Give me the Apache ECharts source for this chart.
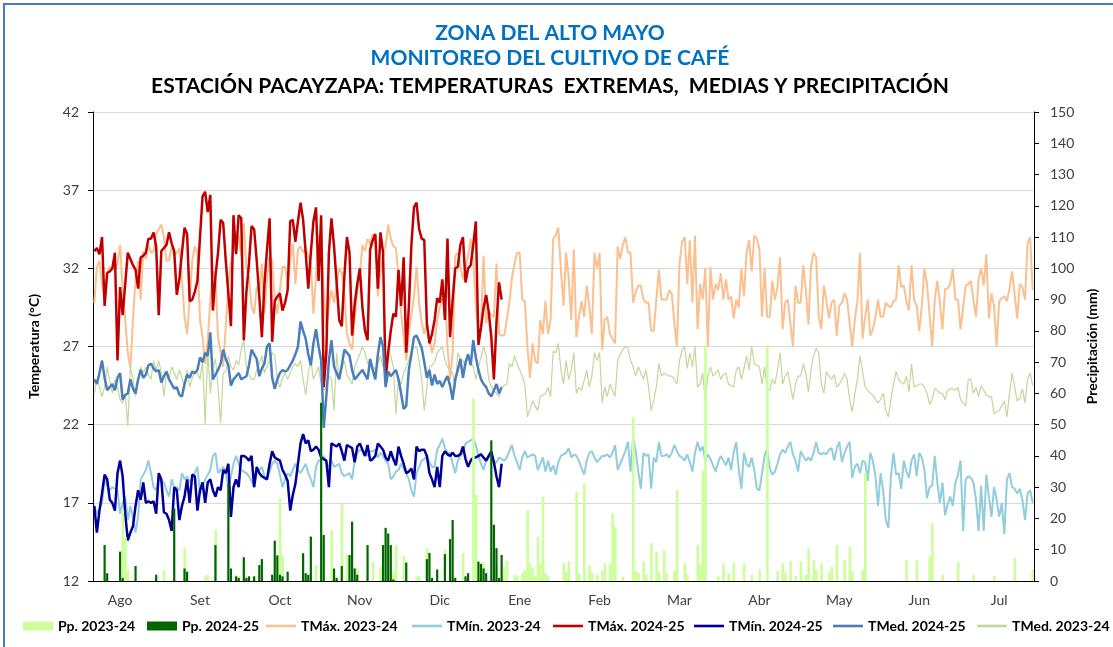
<!DOCTYPE html>
<html>
<head>
<meta charset="utf-8">
<script src="https://cdn.jsdelivr.net/npm/echarts@6/dist/echarts.min.js"></script>
<style>
  html, body { margin: 0; padding: 0; background: #fff; }
  #chart { width: 1113px; height: 647px; }
</style>
</head>
<body>
<div id="chart"></div>
<script>
// daily axis: 1 Ago 2023 .. 30 Jul 2024
const startDate = Date.UTC(2023, 7, 1)
const days = Array.from({ length: 365 }, (_, i) =>
  new Date(startDate + i * 86400000).toISOString().slice(0, 10))
const monthLabels = ['Ago', 'Set', 'Oct', 'Nov', 'Dic', 'Ene', 'Feb', 'Mar', 'Abr', 'May', 'Jun', 'Jul']

// campaña 2023-24 (año completo)
const tmax2324 = [
  29.8, 32.1, 32.5, 31.0, 30.0, 31.7, 32.1, 32.0, 31.9, 32.3,
  33.5, 30.6, 28.7, 26.6, 25.6, 28.7, 31.3, 32.5, 30.0, 33.1,
  32.6, 33.5, 33.0, 33.1, 34.2, 34.5, 34.8, 34.0, 32.5, 32.5,
  33.4, 32.8, 33.0, 33.3, 31.3, 28.9, 27.8, 30.0, 32.5, 33.4,
  33.0, 28.7, 27.6, 25.9, 27.4, 30.0, 31.9, 31.3, 27.6, 26.6,
  25.7, 28.3, 31.1, 32.3, 33.4, 33.0, 34.1, 32.8, 34.9, 32.1,
  31.3, 29.6, 29.1, 30.8, 30.4, 32.3, 29.1, 31.3, 32.8, 32.5,
  30.0, 29.1, 30.6, 32.1, 32.1, 31.0, 32.4, 33.6, 31.0, 33.2,
  33.4, 33.0, 33.2, 32.8, 32.3, 29.1, 31.5, 34.0, 34.2, 30.5,
  28.1, 29.6, 30.6, 29.8, 31.0, 32.0, 31.7, 30.4, 27.8, 27.2,
  26.8, 28.7, 30.5, 31.5, 33.5, 33.1, 33.9, 33.5, 34.2, 33.8,
  30.2, 31.8, 32.8, 33.5, 34.8, 33.9, 33.4, 33.3, 31.5, 29.1,
  27.6, 26.1, 27.8, 29.0, 30.2, 32.1, 29.8, 28.5, 27.8, 28.5,
  27.5, 26.6, 27.2, 28.7, 29.5, 30.0, 30.4, 27.0, 24.9, 26.6,
  32.8, 33.0, 32.1, 31.3, 32.0, 32.8, 33.9, 32.5, 29.6, 27.8,
  28.3, 32.8, 28.5, 29.3, 29.0, 28.9, 32.3, 27.8, 27.7, 27.7,
  28.7, 29.8, 31.4, 32.3, 33.0, 33.0, 30.0, 29.9, 27.0, 25.0,
  27.2, 26.1, 25.9, 28.7, 27.8, 29.9, 27.8, 28.7, 33.9, 34.1,
  34.6, 31.9, 29.6, 33.0, 31.4, 28.7, 33.2, 27.6, 28.9, 29.9,
  28.9, 30.9, 29.6, 27.8, 33.0, 32.0, 33.0, 26.8, 28.7, 28.9,
  27.8, 27.5, 27.2, 33.4, 32.6, 33.5, 34.0, 33.0, 33.0, 29.8,
  30.5, 30.9, 30.9, 30.0, 29.8, 29.8, 28.0, 28.0, 30.0, 31.9,
  30.0, 30.0, 30.0, 30.6, 30.4, 28.5, 27.0, 32.3, 33.7, 34.0,
  31.0, 33.8, 29.8, 34.1, 28.1, 31.0, 30.0, 32.0, 27.0, 32.1,
  30.0, 31.0, 30.6, 31.7, 30.0, 31.3, 30.0, 30.2, 28.8, 30.0,
  29.5, 32.0, 30.2, 33.0, 33.8, 31.8, 34.1, 33.9, 33.2, 28.9,
  32.0, 28.9, 28.9, 31.2, 30.0, 30.8, 32.7, 28.1, 29.8, 30.0,
  28.5, 27.0, 30.9, 29.8, 29.8, 32.2, 30.6, 28.4, 32.1, 33.0,
  32.7, 28.9, 28.1, 30.9, 29.9, 28.8, 29.8, 30.0, 27.7, 29.6,
  29.8, 30.4, 30.0, 28.5, 27.0, 28.7, 29.9, 33.0, 27.5, 28.9,
  30.0, 27.7, 28.1, 28.9, 30.0, 28.9, 28.9, 29.8, 29.6, 29.5,
  29.9, 30.0, 32.2, 30.8, 30.9, 29.9, 29.3, 32.2, 30.0, 29.6,
  28.0, 29.6, 32.0, 31.0, 29.0, 27.0, 30.0, 31.2, 29.8, 28.1,
  30.7, 30.7, 31.0, 32.0, 30.0, 30.0, 28.1, 29.5, 30.9, 31.0,
  31.2, 30.0, 28.9, 31.3, 32.0, 30.9, 32.9, 28.8, 30.4, 29.6,
  27.0, 29.9, 30.1, 30.2, 29.9, 30.7, 31.8, 30.3, 28.8, 31.0,
  30.8, 30.0, 33.6, 34.0, 30.6
]
const tmin2324 = [
  16.8, 16.3, 16.6, 17.0, 18.5, 18.1, 17.8, 18.0, 17.9, 17.8,
  16.3, 17.0, 17.4, 15.9, 16.8, 16.0, 15.1, 16.1, 18.5, 18.8,
  19.1, 19.7, 18.9, 18.0, 17.8, 18.5, 18.3, 18.3, 17.8, 17.4,
  18.5, 18.0, 18.0, 17.8, 18.9, 18.5, 18.7, 18.3, 18.6, 18.9,
  19.3, 17.6, 18.0, 18.5, 18.8, 19.1, 20.0, 20.2, 18.9, 19.1,
  19.3, 18.9, 18.0, 18.7, 19.5, 20.0, 19.5, 19.1, 19.0, 18.9,
  18.7, 18.4, 18.0, 18.9, 19.1, 19.3, 18.7, 18.5, 19.0, 19.5,
  19.7, 19.5, 18.8, 18.0, 18.5, 18.9, 18.7, 19.1, 19.5, 19.1,
  18.9, 19.2, 19.5, 18.9, 18.5, 18.0, 19.3, 19.7, 19.8, 20.0,
  19.6, 19.3, 19.7, 19.3, 19.4, 19.5, 18.9, 18.7, 18.8, 18.9,
  18.5, 19.7, 20.2, 20.4, 20.3, 20.2, 20.0, 20.3, 20.3, 20.4,
  19.9, 20.2, 20.0, 19.7, 19.5, 18.5, 18.7, 19.0, 19.1, 19.5,
  19.2, 18.9, 18.5, 17.8, 17.4, 18.9, 19.3, 19.7, 19.8, 20.0,
  19.6, 19.3, 19.3, 20.4, 20.7, 21.1, 20.5, 20.2, 20.2, 19.5,
  18.9, 19.7, 20.0, 20.2, 20.8, 20.9, 21.0, 21.1, 20.7, 20.0,
  19.5, 19.1, 19.7, 19.9, 20.2, 19.5, 19.6, 19.9, 19.8, 19.7,
  19.9, 20.3, 20.7, 20.0, 19.6, 19.1, 19.9, 20.3, 19.9, 20.0,
  20.1, 20.0, 19.1, 19.5, 19.9, 19.0, 19.7, 19.0, 19.4, 18.8,
  19.6, 20.0, 20.1, 20.2, 20.5, 19.9, 20.1, 20.0, 19.7, 19.2,
  18.8, 19.7, 20.2, 20.3, 19.9, 19.6, 19.8, 20.0, 20.0, 20.1,
  19.9, 20.2, 20.7, 19.1, 19.5, 19.9, 20.3, 20.9, 19.0, 21.2,
  20.3, 19.0, 17.9, 20.2, 20.0, 20.1, 17.9, 19.9, 19.6, 20.9,
  20.0, 20.0, 20.1, 19.9, 20.2, 20.7, 20.3, 20.0, 19.9, 19.7,
  20.1, 19.6, 19.0, 20.2, 20.9, 20.3, 20.6, 19.7, 20.1, 19.8,
  19.4, 19.0, 19.6, 20.0, 19.7, 19.4, 19.9, 19.1, 20.2, 20.9,
  19.1, 17.9, 20.2, 19.5, 19.3, 19.9, 19.1, 17.9, 17.8, 18.9,
  20.0, 20.5, 19.2, 18.8, 19.0, 19.5, 20.1, 20.4, 20.2, 20.6,
  20.9, 20.1, 19.7, 19.0, 20.3, 20.0, 19.7, 19.9, 19.7, 20.2,
  20.9, 20.2, 20.1, 20.2, 20.1, 20.4, 20.5, 19.7, 20.5, 20.9,
  19.6, 20.2, 20.6, 20.9, 18.6, 19.3, 19.5, 18.9, 19.7, 19.6,
  18.4, 20.2, 19.7, 18.7, 16.8, 18.9, 17.8, 15.9, 15.4, 18.7,
  20.2, 18.8, 18.9, 17.9, 19.7, 19.0, 18.6, 19.7, 20.1, 18.7,
  20.2, 19.9, 19.1, 17.3, 18.0, 18.1, 20.0, 18.3, 17.0, 18.3,
  16.2, 16.9, 17.4, 16.8, 18.3, 18.8, 19.7, 15.2, 18.5, 18.7,
  18.6, 18.3, 17.2, 15.2, 18.1, 15.2, 18.8, 17.4, 16.1, 18.0,
  17.2, 16.1, 17.0, 15.0, 18.5, 18.9, 18.0, 17.9, 17.6, 17.9,
  17.2, 15.9, 17.6, 17.8, 17.0
]
const tmed2324 = [
  24.0, 24.9, 24.4, 23.8, 24.4, 25.7, 24.8, 24.0, 24.9, 24.4,
  23.6, 23.4, 24.0, 21.9, 25.7, 24.9, 23.8, 24.8, 25.7, 25.3,
  25.7, 25.2, 24.9, 26.1, 25.5, 26.1, 25.3, 23.8, 25.3, 25.0,
  25.7, 25.3, 24.9, 25.5, 25.0, 24.4, 25.5, 24.4, 25.0, 25.3,
  25.3, 24.9, 26.1, 22.0, 26.8, 24.0, 25.7, 26.2, 24.4, 22.1,
  25.3, 25.4, 26.4, 25.7, 25.5, 26.1, 25.8, 26.8, 27.4, 25.7,
  25.2, 24.9, 24.9, 25.5, 25.9, 26.4, 25.3, 25.7, 26.1, 26.6,
  26.4, 24.9, 24.4, 25.0, 25.3, 24.9, 25.3, 25.7, 25.9, 25.7,
  26.1, 24.9, 23.9, 25.3, 26.1, 24.9, 25.3, 25.7, 24.6, 24.2,
  24.4, 25.1, 24.9, 22.9, 26.6, 24.9, 25.5, 26.1, 25.2, 24.9,
  24.6, 25.7, 26.1, 26.5, 27.0, 26.6, 25.9, 26.1, 25.8, 25.5,
  25.9, 26.4, 25.7, 26.3, 26.8, 26.4, 25.7, 22.7, 24.9, 24.6,
  25.3, 25.7, 26.1, 26.8, 26.9, 27.0, 26.1, 24.9, 22.9, 24.4,
  25.7, 25.8, 26.0, 26.6, 26.8, 27.0, 26.1, 25.7, 25.5, 25.3,
  24.3, 26.6, 26.2, 26.1, 25.7, 26.4, 26.0, 25.7, 24.9, 25.7,
  26.3, 27.0, 26.4, 24.9, 24.4, 24.2, 24.0, 23.8, 24.4, 24.5,
  24.6, 25.9, 25.7, 26.4, 25.9, 25.5, 25.1, 24.6, 22.5, 23.0,
  23.5, 23.2, 22.9, 23.8, 23.9, 24.0, 24.4, 23.8, 26.7, 26.6,
  27.2, 25.5, 24.6, 26.1, 24.9, 25.5, 26.6, 24.0, 24.4, 24.2,
  24.8, 25.5, 24.4, 25.1, 26.6, 26.1, 26.6, 23.4, 24.4, 23.8,
  24.6, 24.2, 23.8, 26.1, 26.5, 26.8, 27.0, 26.9, 26.1, 25.7,
  25.1, 25.7, 25.3, 24.9, 25.5, 24.4, 22.9, 23.6, 24.4, 25.9,
  25.1, 25.3, 25.2, 25.1, 25.1, 24.9, 24.6, 26.1, 26.8, 27.0,
  25.6, 26.6, 25.7, 27.0, 24.4, 24.6, 25.3, 23.6, 25.1, 25.7,
  25.1, 25.3, 25.5, 24.9, 25.2, 25.3, 24.6, 24.5, 24.4, 25.5,
  25.7, 24.9, 25.6, 26.4, 25.5, 27.0, 25.9, 25.8, 25.7, 24.6,
  25.7, 24.2, 24.2, 24.9, 24.6, 25.5, 26.6, 24.6, 25.1, 25.4,
  24.5, 23.6, 24.6, 25.1, 25.1, 25.9, 25.3, 24.1, 25.5, 26.4,
  26.9, 26.6, 24.6, 24.0, 25.4, 25.1, 24.9, 25.2, 24.4, 24.6,
  24.9, 25.3, 24.9, 23.6, 22.8, 24.0, 24.9, 26.4, 25.4, 24.4,
  24.2, 24.0, 23.9, 23.6, 23.4, 23.6, 24.0, 22.9, 22.5, 23.6,
  24.6, 25.4, 24.9, 24.7, 24.6, 25.1, 24.1, 25.9, 24.4, 24.5,
  24.6, 24.6, 24.4, 24.0, 23.3, 23.6, 24.3, 24.2, 24.0, 24.0,
  23.6, 24.2, 24.3, 24.3, 24.2, 24.4, 23.6, 23.4, 23.2, 24.9,
  24.9, 24.0, 24.4, 23.8, 24.5, 24.2, 23.9, 23.8, 23.8, 22.7,
  22.8, 22.9, 23.2, 23.5, 22.5, 24.0, 25.3, 24.4, 23.5, 23.7,
  24.3, 23.4, 24.9, 25.3, 24.5
]
const pp2324 = [
  0, 0, 0, 0, 0, 0, 0, 0, 0, 0,
  0, 22.7, 14, 3.5, 0, 0, 0, 0, 0, 0,
  0, 0, 0, 0, 0, 0, 0, 3.5, 0, 0,
  0, 0, 0, 0, 0, 10.5, 0, 0, 0, 0,
  0, 0, 0, 1.5, 2, 0, 0, 16.3, 0, 0,
  0, 0, 0, 0, 0, 2, 1.5, 0, 6.2, 0,
  0, 0, 0, 0, 0, 0, 0, 0, 0, 0,
  0, 0, 26.4, 8.3, 0, 0, 0, 0, 0, 0,
  0, 0, 0, 0, 0, 0, 5.1, 0, 0, 0,
  0, 0, 16.3, 0, 0, 0, 24.8, 0, 8.3, 0,
  0, 0, 4, 0, 0, 0, 0, 0, 6, 0,
  0, 4.5, 0, 0, 0, 0, 3, 11.5, 0, 0,
  8, 0, 0, 0, 0, 1.5, 1.5, 0, 0, 10.5,
  0, 0, 0, 0, 0, 0, 10, 0, 0, 0,
  0, 0, 0, 9, 0, 0, 0, 58.4, 27.5, 0,
  4.5, 6, 0, 0, 0, 0, 5, 0, 0, 4.6,
  6.5, 0, 0, 2, 1.5, 0, 2.4, 3.5, 22.7, 5.7,
  4.1, 1.5, 14.2, 5.7, 27, 2.5, 1.5, 0, 0, 0,
  0, 0, 5.7, 3, 6.2, 0, 0, 28.6, 2.5, 0,
  31.2, 0, 5, 2.7, 0, 2, 0, 3.2, 5.7, 0,
  5.7, 21.6, 17.3, 0, 0, 1.5, 0, 0, 0, 52.5,
  3.2, 2.5, 0, 6.2, 2, 0, 12, 0, 9.3, 3,
  0, 9.9, 2.5, 0, 0, 3.2, 29.1, 0, 0, 5.7,
  2, 0, 0, 0, 11.5, 5.3, 35.2, 75, 0, 0,
  0, 0, 1.5, 0, 5.7, 0, 2.5, 0, 5.7, 0,
  0, 0, 5.7, 0, 0, 2, 0, 0, 3.6, 0,
  0, 75, 0, 0, 0, 3.2, 0, 5.7, 2.8, 0,
  6.5, 0, 1.6, 0, 6.2, 0, 2, 10.4, 0, 6.7,
  3.6, 0, 5.7, 0, 0, 3, 4.5, 0, 11.5, 0,
  0, 6.7, 0, 11, 3.2, 0, 0, 0, 3.6, 34.4,
  0, 0, 0, 0, 0, 0, 0, 0, 0, 0,
  0, 0, 0, 0, 0, 6.7, 0, 0, 0, 6.7,
  0, 0, 0, 0, 7.8, 18.4, 0, 0, 0, 2,
  0, 0, 0, 0, 0, 6, 0, 0, 0, 0,
  0, 2, 0, 0, 0, 0, 0, 0, 0, 1.6,
  0, 0, 0, 0, 0, 0, 0, 7.3, 0, 0,
  0, 0, 0, 0, 3.6
]

// campaña 2024-25 (hasta inicios de enero)
const tmax2425 = [
  33.1, 33.3, 32.9, 34.0, 29.6, 31.7, 31.8, 32.0, 33.0, 26.1,
  30.8, 29.0, 31.0, 33.0, 32.6, 32.2, 31.9, 30.7, 32.7, 32.8,
  33.0, 33.9, 33.9, 34.3, 33.4, 29.0, 33.1, 33.3, 33.5, 34.3,
  33.6, 33.1, 30.3, 31.3, 33.0, 34.6, 34.2, 29.9, 30.0, 30.5,
  31.2, 34.0, 36.6, 36.9, 35.6, 36.7, 29.3, 31.5, 33.0, 35.1,
  34.9, 32.5, 30.4, 28.3, 35.4, 32.9, 35.4, 35.2, 27.4, 30.5,
  32.3, 34.7, 34.5, 32.5, 30.2, 27.6, 31.0, 33.2, 35.2, 27.3,
  29.9, 30.2, 30.4, 29.3, 29.8, 30.6, 35.0, 35.1, 33.7, 35.0,
  36.2, 35.1, 33.0, 30.7, 33.0, 35.0, 35.9, 31.2, 35.4, 24.4,
  26.6, 33.0, 35.2, 33.4, 31.1, 28.7, 28.3, 31.5, 34.0, 33.0,
  27.7, 29.7, 31.0, 32.0, 29.5, 28.0, 27.4, 33.2, 33.8, 34.2,
  30.7, 34.3, 33.0, 24.9, 26.6, 28.0, 29.1, 28.9, 31.9, 29.6,
  32.7, 26.6, 29.5, 33.5, 35.9, 36.2, 34.5, 33.9, 33.8, 28.5,
  27.2, 27.8, 28.7, 30.1, 29.8, 31.3, 28.7, 33.9, 27.6, 30.0,
  32.0, 32.1, 33.5, 34.0, 31.1, 32.0, 32.2, 33.5, 35.0, 27.1,
  28.2, 29.5, 30.3, 29.2, 27.6, 24.9, 28.5, 31.1, 30.0
]
const tmin2425 = [
  16.8, 15.1, 16.5, 17.6, 18.8, 18.5, 17.2, 17.0, 16.5, 18.9,
  19.7, 18.7, 16.3, 14.6, 15.1, 15.5, 16.8, 17.8, 17.2, 18.3,
  17.0, 17.1, 17.0, 17.1, 16.3, 18.9, 18.5, 16.4, 16.3, 15.9,
  15.2, 18.0, 17.8, 15.9, 16.8, 17.4, 18.5, 17.0, 18.8, 18.7,
  16.5, 17.8, 18.3, 17.0, 18.3, 18.5, 17.8, 17.4, 18.0, 17.8,
  19.1, 18.9, 19.5, 16.1, 18.0, 18.5, 18.0, 20.0, 20.0, 19.9,
  19.7, 20.0, 18.0, 19.3, 18.9, 18.7, 18.6, 18.5, 19.5, 20.3,
  19.9, 19.8, 19.7, 19.1, 18.8, 18.4, 16.5, 17.5, 18.2, 19.5,
  20.8, 21.4, 20.8, 21.0, 20.3, 20.4, 20.6, 20.4, 19.9, 19.8,
  19.7, 18.0, 20.8, 20.7, 20.6, 20.8, 20.3, 19.7, 20.7, 20.6,
  20.5, 19.6, 20.6, 20.8, 20.4, 20.0, 20.7, 19.7, 19.8, 20.0,
  20.8, 20.6, 20.4, 19.9, 19.7, 20.3, 19.8, 19.4, 20.6, 20.0,
  19.5, 18.9, 19.0, 19.2, 18.5, 20.6, 20.3, 20.4, 20.4, 20.0,
  18.9, 18.5, 18.0, 19.3, 18.0, 20.0, 20.3, 20.1, 20.0, 20.2,
  20.0, 20.0, 20.1, 20.6, 19.8, 19.3, 19.7, 19.9, 19.9, 20.0,
  20.1, 19.9, 19.7, 20.0, 20.3, 19.6, 18.7, 18.0, 19.5
]
const tmed2425 = [
  24.9, 24.6, 25.3, 26.1, 25.0, 24.2, 24.4, 24.6, 24.2, 25.0,
  25.3, 23.6, 23.9, 24.0, 24.9, 24.3, 24.0, 24.9, 25.5, 25.0,
  25.2, 25.8, 25.9, 25.6, 25.4, 25.5, 24.7, 25.1, 25.4, 24.9,
  24.6, 24.3, 24.4, 23.9, 23.8, 24.6, 25.2, 25.0, 25.4, 25.3,
  25.5, 26.3, 26.0, 26.6, 26.4, 27.9, 24.9, 25.2, 25.5, 25.9,
  26.8, 26.2, 25.8, 24.5, 24.9, 25.1, 25.3, 24.9, 25.0, 25.1,
  25.8, 26.8, 26.5, 26.2, 25.1, 25.6, 25.9, 27.0, 27.2, 25.0,
  24.3, 24.9, 25.3, 25.5, 25.4, 25.5, 25.8, 26.1, 26.5, 27.0,
  28.6, 28.0, 27.5, 26.5, 25.8, 27.2, 28.1, 27.0, 26.1, 21.8,
  23.8, 26.1, 27.4, 25.7, 25.3, 24.9, 25.8, 26.8, 26.6, 26.4,
  25.5, 24.9, 25.1, 25.3, 25.5, 25.2, 24.9, 26.2, 25.5, 24.9,
  26.5, 27.6, 27.0, 24.4, 25.4, 25.1, 25.3, 25.5, 24.9, 24.0,
  23.0, 23.2, 25.5, 26.5, 27.6, 27.7, 27.3, 26.9, 26.0, 25.0,
  25.5, 24.5, 25.2, 24.6, 24.8, 24.4, 24.8, 25.1, 24.5, 23.6,
  24.9, 25.5, 26.2, 25.0, 26.0, 26.5, 25.8, 27.4, 26.3, 25.5,
  24.9, 24.6, 24.4, 24.0, 23.8, 24.2, 24.6, 24.0, 24.4
]
const pp2425 = [
  0, 0, 0, 0, 11.5, 2.5, 0, 0, 0, 0,
  9.4, 1, 0, 0, 0, 0, 4.8, 0, 0, 0,
  0, 0, 0, 0, 2, 0, 0, 0, 0, 0,
  0, 23.2, 0, 0, 0, 4, 3, 0, 0, 0,
  0, 0, 0, 0, 0, 0, 0, 11.5, 0, 0,
  0, 0, 31.2, 4, 0, 1.5, 1, 0, 7.6, 1,
  1.5, 0, 1.5, 0, 5.1, 7, 0, 0, 0, 2,
  12.9, 8.2, 2, 1.5, 0, 3, 0, 0, 0, 0,
  0, 8.9, 2.5, 2, 14.2, 0, 0, 0, 57, 14.7,
  0, 0, 0, 4, 1, 0, 4.8, 0, 0, 8.3,
  19, 4, 2, 0, 0, 0, 11.5, 0, 0, 0,
  0, 0, 11.5, 17, 15.2, 11.5, 0.5, 0, 0, 0,
  0, 5.9, 0, 0, 0, 0, 0, 0, 0, 7,
  9, 1, 0, 3.7, 0, 0, 8.6, 0, 13.4, 19.5,
  1, 0, 0, 0, 1.5, 2.5, 0, 0, 0, 6.2,
  5.5, 4, 2.5, 0, 45, 18, 10.5, 1, 8.3
]

const font = 'Lato, "Open Sans", sans-serif'
const chart = echarts.init(document.getElementById('chart'))

function lineSeries(name, data, color, width) {
  return {
    name, type: 'line', data, yAxisIndex: 0,
    symbol: 'none', showSymbol: false,
    lineStyle: { color, width }, itemStyle: { color },
    z: 2,
  }
}
function barSeries(name, data, color, width) {
  return {
    name, type: 'bar', data, yAxisIndex: 1,
    barWidth: width, barGap: '-100%',
    itemStyle: { color },
    z: 3,
  }
}

// legend: name, left edge, icon
const barIcon = 'rect'
const lineIcon = 'path://M0,0H30V2.6H0Z'
const legendSpec = [
  ['Pp. 2023-24', 23, barIcon],
  ['Pp. 2024-25', 147, barIcon],
  ['TMáx. 2023-24', 266, lineIcon],
  ['TMín. 2023-24', 412, lineIcon],
  ['TMáx. 2024-25', 553, lineIcon],
  ['TMín. 2024-25', 694, lineIcon],
  ['TMed. 2024-25', 833, lineIcon],
  ['TMed. 2023-24', 977, lineIcon],
]

const axisText = { color: '#404040', fontSize: 14, fontFamily: font }
const titleFont = 'bold 21px ' + font

chart.setOption({
  animation: false,
  textStyle: { fontFamily: font },
  grid: { left: 93, right: 79, top: 112, bottom: 66 },
  graphic: [
    {
      type: 'rect', silent: true,
      shape: { x: 4, y: 4, width: 1130, height: 680 },
      style: { fill: null, stroke: '#4A7EBB', lineWidth: 2 },
    },
    {
      type: 'text', x: 550, y: 33,
      style: { text: 'ZONA DEL ALTO MAYO', fill: '#0070C0', font: titleFont, textAlign: 'center', textVerticalAlign: 'middle' },
    },
    {
      type: 'text', x: 550, y: 58,
      style: { text: 'MONITOREO DEL CULTIVO DE CAFÉ', fill: '#0070C0', font: titleFont, textAlign: 'center', textVerticalAlign: 'middle' },
    },
    {
      type: 'text', x: 550, y: 86,
      style: { text: 'ESTACIÓN PACAYZAPA: TEMPERATURAS  EXTREMAS,  MEDIAS Y PRECIPITACIÓN', fill: '#000', font: titleFont, textAlign: 'center', textVerticalAlign: 'middle' },
    },
  ],
  legend: legendSpec.map(([name, left, icon]) => ({
    data: [{ name, icon }],
    left, top: 619,
    itemWidth: 30, itemHeight: icon === barIcon ? 9 : 14,
    padding: 0,
    textStyle: { color: '#000', fontWeight: 'bold', fontSize: 14, fontFamily: font },
  })),
  xAxis: {
    type: 'category',
    data: days,
    boundaryGap: true,
    axisLine: { lineStyle: { color: '#000', width: 1 } },
    axisTick: { interval: (i) => i % 31 === 0, length: 5, lineStyle: { color: '#000' } },
    axisLabel: {
      interval: (i) => i % 31 === 10,
      formatter: (v, i) => monthLabels[Math.floor(i / 31)],
      margin: 12,
      ...axisText,
    },
    splitLine: { show: false },
  },
  yAxis: [
    {
      type: 'value', min: 12, max: 42, interval: 5, position: 'left',
      name: 'Temperatura (°C)', nameLocation: 'middle', nameGap: 52, nameRotate: 90,
      nameTextStyle: { color: '#000', fontWeight: 'bold', fontSize: 14, fontFamily: font },
      axisLine: { show: true, lineStyle: { color: '#000' } },
      axisTick: { show: true, length: 5, lineStyle: { color: '#000' } },
      axisLabel: { margin: 14, ...axisText },
      splitLine: { show: true, lineStyle: { color: '#D9D9D9', width: 1 } },
    },
    {
      type: 'value', min: 0, max: 150, interval: 10, position: 'right',
      name: 'Precipitación (mm)', nameLocation: 'middle', nameGap: 50, nameRotate: 90,
      nameTextStyle: { color: '#000', fontWeight: 'bold', fontSize: 14, fontFamily: font },
      axisLine: { show: true, lineStyle: { color: '#000' } },
      axisTick: { show: true, length: 5, lineStyle: { color: '#000' } },
      axisLabel: { margin: 16, ...axisText },
      splitLine: { show: false },
    },
  ],
  series: [
    lineSeries('TMáx. 2023-24', tmax2324, '#FAC090', 2),
    lineSeries('TMín. 2023-24', tmin2324, '#92CDDC', 2),
    lineSeries('TMed. 2023-24', tmed2324, '#C3D69B', 1.2),
    lineSeries('TMáx. 2024-25', tmax2425, '#C00000', 2.5),
    lineSeries('TMín. 2024-25', tmin2425, '#000099', 2.5),
    lineSeries('TMed. 2024-25', tmed2425, '#4A7EBB', 2.5),
    barSeries('Pp. 2023-24', pp2324, '#CCFF99', 2.6),
    barSeries('Pp. 2024-25', pp2425, '#006600', 2.2),
  ],
})
</script>
</body>
</html>
